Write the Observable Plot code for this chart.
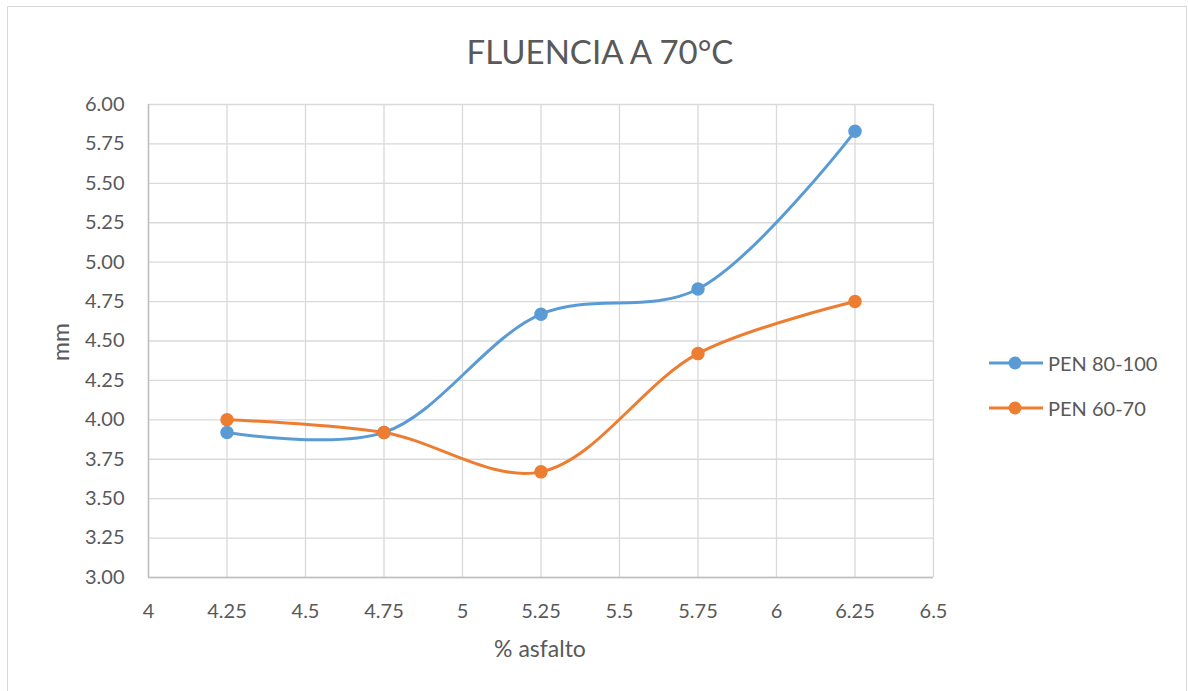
<!DOCTYPE html>
<html>
<head>
<meta charset="utf-8">
<script src="https://cdn.jsdelivr.net/npm/d3@7"></script>
<script src="https://cdn.jsdelivr.net/npm/@observablehq/plot@0.6"></script>
<style>
  html, body { margin: 0; padding: 0; background: #ffffff; }
  body { width: 1188px; height: 691px; position: relative; overflow: hidden; font-family: Lato, "Open Sans", sans-serif; color: #595959; }
  #frame { position: absolute; left: 7px; top: 6px; width: 1180px; height: 700px; border: 1px solid #d9d9d9; box-sizing: border-box; }
  #chart { position: absolute; left: 0; top: 0; }
  .title { position: absolute; left: 0; width: 1200px; top: 31px; text-align: center; font-size: 33px; line-height: 40px; color: #595959; }
  .ylabel { position: absolute; left: 60px; top: 342px; font-size: 23px; transform: translate(-50%, -50%) rotate(-90deg); white-space: nowrap; }
  .xlabel { position: absolute; left: 540px; top: 648px; font-size: 23px; transform: translate(-50%, -50%); white-space: nowrap; }
  .legend { position: absolute; left: 988px; top: 340px; font-size: 20px; }
  .legend .item { display: flex; align-items: center; height: 45px; }
  .legend svg { margin-right: 4px; }
</style>
</head>
<body>
<div id="frame"></div>
<div id="chart"></div>
<div class="title">FLUENCIA A 70°C</div>
<div class="ylabel">mm</div>
<div class="xlabel">% asfalto</div>
<div class="legend" id="legend"></div>
<script>
const asphalt = [4.25, 4.75, 5.25, 5.75, 6.25];
const pen80_100 = [3.92, 3.92, 4.67, 4.83, 5.83];
const pen60_70 = [4.00, 3.92, 3.67, 4.42, 4.75];
const seriesNames = ["PEN 80-100", "PEN 60-70"];
const seriesColors = ["#5B9BD5", "#ED7D31"];
const xTicks = [4, 4.25, 4.5, 4.75, 5, 5.25, 5.5, 5.75, 6, 6.25, 6.5];
const yTicks = [3, 3.25, 3.5, 3.75, 4, 4.25, 4.5, 4.75, 5, 5.25, 5.5, 5.75, 6];

const data = [
  ...asphalt.map((x, i) => ({series: seriesNames[0], x, y: pen80_100[i]})),
  ...asphalt.map((x, i) => ({series: seriesNames[1], x, y: pen60_70[i]}))
];

const plot = Plot.plot({
  width: 1188,
  height: 691,
  marginLeft: 148,
  marginRight: 255,
  marginTop: 104,
  marginBottom: 114,
  style: {fontFamily: "Lato, 'Open Sans', sans-serif", fontSize: "20px", color: "#595959", background: "transparent"},
  x: {domain: [4, 6.5]},
  y: {domain: [3, 6]},
  color: {domain: seriesNames, range: seriesColors},
  marks: [
    Plot.gridX(xTicks, {stroke: "#d9d9d9", strokeOpacity: 1, strokeWidth: 1.3}),
    Plot.gridY(yTicks, {stroke: "#d9d9d9", strokeOpacity: 1, strokeWidth: 1.3}),
    Plot.ruleX([4], {stroke: "#bfbfbf", strokeWidth: 1.5}),
    Plot.ruleY([3], {stroke: "#bfbfbf", strokeWidth: 1.5}),
    Plot.axisX({ticks: xTicks, tickSize: 0, tickPadding: 26, tickFormat: d => String(d), label: null, fill: "#595959"}),
    Plot.axisY({ticks: yTicks, tickSize: 0, tickPadding: 24, tickFormat: d => d.toFixed(2), label: null, fill: "#595959"}),
    Plot.line(data, {x: "x", y: "y", z: "series", stroke: "series", strokeWidth: 3, curve: "catmull-rom"}),
    Plot.dot(data, {x: "x", y: "y", fill: "series", stroke: "series", r: 6})
  ]
});
document.getElementById("chart").appendChild(plot);

const legend = document.getElementById("legend");
seriesNames.forEach((name, i) => {
  const item = document.createElement("div");
  item.className = "item";
  item.innerHTML = `<svg width="56" height="16"><line x1="1" y1="8" x2="55" y2="8" stroke="${seriesColors[i]}" stroke-width="3"/><circle cx="27" cy="8" r="6.5" fill="${seriesColors[i]}"/></svg><span>${name}</span>`;
  legend.appendChild(item);
});
</script>
</body>
</html>
